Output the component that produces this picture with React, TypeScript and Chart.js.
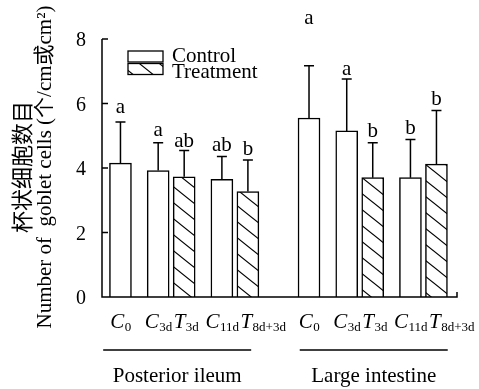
import React, { useEffect, useRef } from 'react';
import { Chart, registerables } from 'chart.js';

Chart.register(...registerables);

// ---- data ----
const groupNames = ['Posterior ileum', 'Large intestine'];
const barLetters = ['C', 'C', 'T', 'C', 'T'];
const barSubscripts = ['0', '3d', '3d', '11d', '8d+3d'];
const barIsTreatment = [false, false, true, false, true];
const clusters = [[0], [1, 2], [3, 4]];
const ileumMeans = [4.15, 3.92, 3.73, 3.65, 3.27];
const ileumSD = [1.28, 0.86, 0.81, 0.71, 0.98];
const ileumLetters = ['a', 'a', 'ab', 'ab', 'b'];
const ileumLetterLevels = [5.71, 4.99, 4.65, 4.54, 4.4];
const largeMeans = [5.55, 5.15, 3.7, 3.7, 4.12];
const largeSD = [1.62, 1.61, 1.08, 1.18, 1.66];
const largeLetters = ['a', 'a', 'b', 'b', 'b'];
const largeLetterLevels = [8.47, 6.88, 4.96, 5.05, 5.95];
const yTicks = [0, 2, 4, 6, 8];
const legendLabels = ['Control', 'Treatment'];
const yTitleZh = '杯状细胞数目';
const yTitleEn = 'Number of  goblet cells (个/cm或cm²)';

// ---- layout constants ----
const STEP_PAIR = 1;
const STEP_CLUSTER = 1.45;
const STEP_GROUP = 2.35;
const FONT_FAMILY = "'Liberation Serif', 'Times New Roman', 'Noto Sans CJK SC', serif";
const groupLabelShift = [-7, 1];

type BarInfo = { x: number; mean: number; sd: number; letter: string; level: number; treat: boolean; main: string; sub: string; group: number };

function buildBars(): BarInfo[] {
  const means = [ileumMeans, largeMeans];
  const sds = [ileumSD, largeSD];
  const letters = [ileumLetters, largeLetters];
  const levels = [ileumLetterLevels, largeLetterLevels];
  const out: BarInfo[] = [];
  let pos = 0;
  let first = true;
  groupNames.forEach((_, gi) => {
    clusters.forEach((cl, ci) => {
      cl.forEach((bi, k) => {
        if (!first) pos += k > 0 ? STEP_PAIR : ci > 0 ? STEP_CLUSTER : STEP_GROUP;
        first = false;
        out.push({
          x: pos,
          mean: means[gi][bi],
          sd: sds[gi][bi],
          letter: letters[gi][bi],
          level: levels[gi][bi],
          treat: barIsTreatment[bi],
          main: barLetters[bi],
          sub: barSubscripts[bi],
          group: gi,
        });
      });
    });
  });
  return out;
}

function makeHatch(): CanvasPattern | string {
  const c = document.createElement('canvas');
  const w = 20, h = 16;
  c.width = w; c.height = h;
  const g = c.getContext('2d');
  if (!g) return '#fff';
  g.fillStyle = '#fff';
  g.fillRect(0, 0, w, h);
  g.strokeStyle = '#000';
  g.lineWidth = 1.1;
  for (const dx of [-w, 0, w]) {
    g.beginPath();
    g.moveTo(-w + dx, -h);
    g.lineTo(2 * w + dx, 2 * h);
    g.stroke();
  }
  return g.createPattern(c, 'repeat') || '#fff';
}

export default function App() {
  const ref = useRef<HTMLCanvasElement>(null);

  useEffect(() => {
    const canvas = ref.current;
    if (!canvas) return;
    const bars = buildBars();
    const hatch = makeHatch();
    const xs = bars.map((b) => b.x);
    const xMin = xs[0] - 0.71;
    const xMax = xs[xs.length - 1] + 0.79;

    const decorations = {
      id: 'decorations',
      afterDatasetsDraw(chart: any) {
        const ctx: CanvasRenderingContext2D = chart.ctx;
        const xS = chart.scales.x;
        const yS = chart.scales.y;
        ctx.save();
        ctx.strokeStyle = '#000';
        ctx.fillStyle = '#000';
        // error bars
        ctx.lineWidth = 1.5;
        bars.forEach((b) => {
          const px = xS.getPixelForValue(b.x);
          const top = yS.getPixelForValue(b.mean);
          const et = yS.getPixelForValue(b.mean + b.sd);
          ctx.beginPath();
          ctx.moveTo(px, top);
          ctx.lineTo(px, et);
          ctx.moveTo(px - 5, et);
          ctx.lineTo(px + 5, et);
          ctx.stroke();
        });
        // significance letters
        ctx.font = `21px ${FONT_FAMILY}`;
        ctx.textAlign = 'center';
        ctx.textBaseline = 'alphabetic';
        bars.forEach((b) => {
          const px = xS.getPixelForValue(b.x);
          ctx.fillText(b.letter, px, yS.getPixelForValue(b.level));
        });
        ctx.restore();
      },
      afterDraw(chart: any) {
        const ctx: CanvasRenderingContext2D = chart.ctx;
        const xS = chart.scales.x;
        const yS = chart.scales.y;
        const area = chart.chartArea;
        ctx.save();
        ctx.strokeStyle = '#000';
        ctx.fillStyle = '#000';
        ctx.lineWidth = 1.5;
        // axes
        const yTop = yS.getPixelForValue(yTicks[yTicks.length - 1]);
        ctx.beginPath();
        ctx.moveTo(area.left, yTop);
        ctx.lineTo(area.left, area.bottom);
        ctx.lineTo(area.right, area.bottom);
        ctx.lineTo(area.right, area.bottom - 5);
        yTicks.forEach((t) => {
          const py = yS.getPixelForValue(t);
          ctx.moveTo(area.left, py);
          ctx.lineTo(area.left + 6, py);
        });
        ctx.stroke();

        // legend
        const bx = area.left + 26;
        const boxTops = [area.top + 12, area.top + 24.5];
        const textMids = [area.top + 17, area.top + 33];
        legendLabels.forEach((lab, i) => {
          const by = boxTops[i];
          ctx.fillStyle = i === 0 ? '#fff' : (hatch as any);
          ctx.fillRect(bx, by, 35, 11);
          ctx.lineWidth = 1.3;
          ctx.strokeRect(bx, by, 35, 11);
          ctx.fillStyle = '#000';
          ctx.font = `21px ${FONT_FAMILY}`;
          ctx.textAlign = 'left';
          ctx.textBaseline = 'middle';
          ctx.fillText(lab, bx + 44, textMids[i]);
        });

        // x category labels with subscripts
        const mainFont = `italic 21px ${FONT_FAMILY}`;
        const subFont = `13px ${FONT_FAMILY}`;
        const baseY = area.bottom + 31;
        ctx.textBaseline = 'alphabetic';
        ctx.textAlign = 'left';
        let prevRight = -Infinity;
        let prevGroup = -1;
        bars.forEach((b) => {
          if (b.group !== prevGroup) { prevRight = -Infinity; prevGroup = b.group; }
          ctx.font = mainFont;
          const wm = ctx.measureText(b.main).width;
          ctx.font = subFont;
          const ws = ctx.measureText(b.sub).width;
          const total = wm + ws;
          const cx = xS.getPixelForValue(b.x);
          const left = Math.max(cx - total / 2, prevRight + 2);
          ctx.font = mainFont;
          ctx.fillText(b.main, left, baseY);
          ctx.font = subFont;
          ctx.fillText(b.sub, left + wm + 0.5, baseY + 3);
          prevRight = left + total;
        });

        // group lines and labels
        groupNames.forEach((name, gi) => {
          const gb = bars.filter((b) => b.group === gi);
          const mid = (xS.getPixelForValue(gb[0].x) + xS.getPixelForValue(gb[gb.length - 1].x)) / 2 + groupLabelShift[gi];
          ctx.lineWidth = 1.5;
          ctx.beginPath();
          ctx.moveTo(mid - 74, area.bottom + 53);
          ctx.lineTo(mid + 74, area.bottom + 53);
          ctx.stroke();
          ctx.font = `21px ${FONT_FAMILY}`;
          ctx.textAlign = 'center';
          ctx.textBaseline = 'alphabetic';
          ctx.fillText(name, mid, area.bottom + 85);
        });

        // y-axis title (two lines, rotated)
        const cy = (area.top + area.bottom) / 2 - 1;
        ctx.save();
        ctx.translate(24, cy);
        ctx.rotate(-Math.PI / 2);
        ctx.font = `22px ${FONT_FAMILY}`;
        ctx.textAlign = 'center';
        ctx.textBaseline = 'middle';
        ctx.fillText(yTitleZh, 0, 0);
        ctx.restore();
        ctx.save();
        ctx.translate(45, cy);
        ctx.rotate(-Math.PI / 2);
        ctx.font = `21px ${FONT_FAMILY}`;
        ctx.textAlign = 'center';
        ctx.textBaseline = 'middle';
        ctx.fillText(yTitleEn, 0, 0);
        ctx.restore();

        ctx.restore();
      },
    };

    const chart = new Chart(canvas, {
      type: 'bar',
      data: {
        datasets: [
          {
            label: legendLabels[0],
            data: bars.filter((b) => !b.treat).map((b) => ({ x: b.x, y: b.mean })),
            backgroundColor: '#ffffff',
            borderColor: '#000000',
            borderWidth: 1.5,
            barThickness: 22,
            grouped: false,
          },
          {
            label: legendLabels[1],
            data: bars.filter((b) => b.treat).map((b) => ({ x: b.x, y: b.mean })),
            backgroundColor: hatch as any,
            borderColor: '#000000',
            borderWidth: 1.5,
            barThickness: 22,
            grouped: false,
          },
        ],
      },
      options: {
        responsive: false,
        animation: false,
        layout: { padding: { top: 39, right: 22, left: 0, bottom: 0 } },
        plugins: { legend: { display: false }, tooltip: { enabled: false } },
        scales: {
          x: {
            type: 'linear',
            min: xMin,
            max: xMax,
            offset: false,
            grid: { display: false, drawTicks: false },
            border: { display: false },
            ticks: { display: false },
            afterFit: (s: any) => { s.height = 92; },
          },
          y: {
            min: 0,
            max: 8,
            grid: { display: false, drawTicks: false },
            border: { display: false },
            ticks: {
              stepSize: 2,
              color: '#000',
              padding: 16,
              labelOffset: 2,
              font: { family: FONT_FAMILY, size: 20 },
            },
            afterFit: (s: any) => { s.width = 102; },
          },
        },
      } as any,
      plugins: [decorations],
    });
    return () => chart.destroy();
  }, []);

  return (
    <canvas
      ref={ref}
      width={479}
      height={389}
      style={{ position: 'absolute', left: 0, top: 0, width: 479, height: 389, display: 'block' }}
    />
  );
}
